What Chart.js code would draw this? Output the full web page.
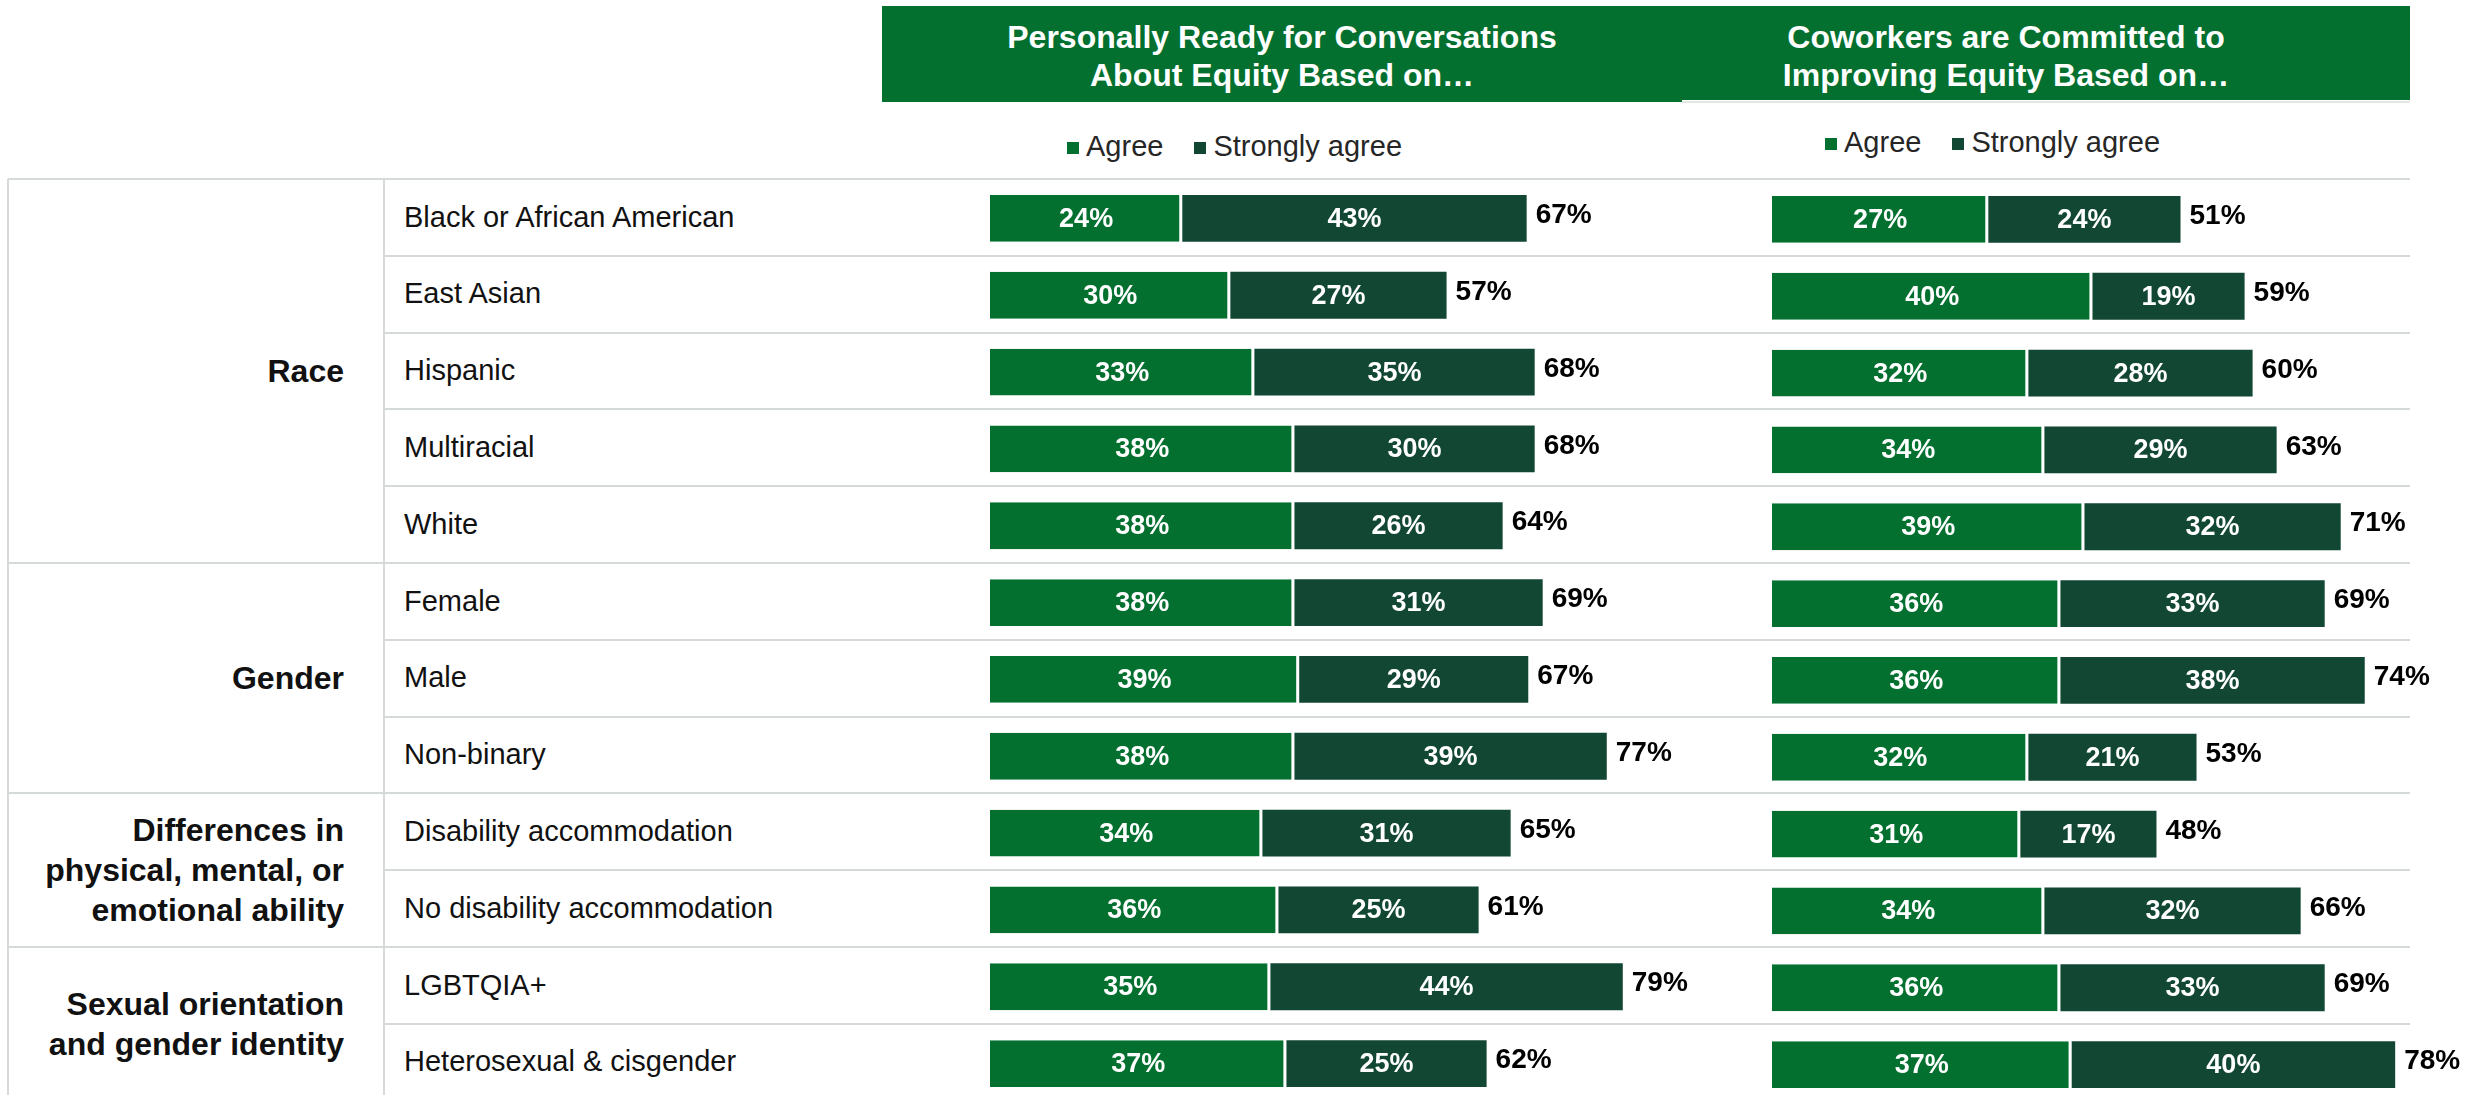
<!DOCTYPE html>
<html>
<head>
<meta charset="utf-8">
<script src="https://cdn.jsdelivr.net/npm/chart.js@4.4.0/dist/chart.umd.min.js"></script>
<style>
  body { margin: 0; width: 2488px; height: 1095px; overflow: hidden; background: #fff;
         font-family: 'Liberation Sans', Arial, sans-serif; position: relative; }
  .abs { position: absolute; }
  .hdr { background: #03702f; }
  .hdrText { color: #fff; font-weight: bold; font-size: 32px; line-height: 38px; text-align: center; }
  .legend { display: flex; align-items: center; height: 30px; font-size: 29px; color: #262626; }
  .legend i { display: inline-block; width: 12px; height: 12px; margin-right: 7px; margin-top: 4px; }
  .line { background: #d5dad8; }
  .rowLbl { font-size: 29px; color: #111; height: 76px; display: flex; align-items: center; }
  .grpLbl { font-size: 32px; font-weight: bold; color: #111; text-align: right; line-height: 40px;
            display: flex; align-items: center; justify-content: flex-end; }
  .wrap { position: absolute; width: 801px; height: 922px; }
</style>
</head>
<body>
<div id="page"></div>
<div class="wrap" style="left:990px; top:180px;"><canvas id="readyChart"></canvas></div>
<div class="wrap" style="left:1772px; top:181px;"><canvas id="coworkChart"></canvas></div>
<script>
// row / group labels
const rowLabels = [
  'Black or African American', 'East Asian', 'Hispanic', 'Multiracial', 'White',
  'Female', 'Male', 'Non-binary',
  'Disability accommodation', 'No disability accommodation',
  'LGBTQIA+', 'Heterosexual & cisgender',
];
const groupLabels = [
  ['Race'],
  ['Gender'],
  ['Differences in', 'physical, mental, or', 'emotional ability'],
  ['Sexual orientation', 'and gender identity'],
];
const groupSizes = [5, 3, 2, 2];
const seriesNames = ['Agree', 'Strongly agree'];
const titles = [
  ['Personally Ready for Conversations', 'About Equity Based on…'],
  ['Coworkers are Committed to', 'Improving Equity Based on…'],
];

// Personally ready
const readyAgree = [24, 30, 33, 38, 38, 38, 38.6, 38, 34, 36, 35, 37];
const readyStrong = [43, 27, 35, 30, 26, 31, 28.6, 39, 31, 25, 44, 25];
const readyTotal = [67, 57, 68, 68, 64, 69, 67, 77, 65, 61, 79, 62];
// Coworkers committed
const coworkAgree = [27, 40, 32, 34, 39, 36, 36, 32, 31, 34, 36, 37.4];
const coworkStrong = [24, 19, 28, 29, 32, 33, 38, 21, 17, 32, 33, 40.4];
const coworkTotal = [51, 59, 60, 63, 71, 69, 74, 53, 48, 66, 69, 78];

const agreeColor = '#03702f';
const strongColor = '#124734';

// ---- table frame, headers, legends (html) ----
const page = document.getElementById('page');
const add = (cls, style, html) => {
  const d = document.createElement('div');
  d.className = 'abs ' + cls;
  d.setAttribute('style', style);
  if (html) d.innerHTML = html;
  page.appendChild(d);
  return d;
};

const top0 = 179;
const rowH = 76.8;

add('hdr', 'left:882px; top:6px; width:800px; height:96px;');
add('hdr', 'left:1682px; top:6px; width:728px; height:94px;');
add('', 'left:1682px; top:101px; width:728px; height:2px; background:#e3e8e5;');
add('hdrText', 'left:882px; top:18px; width:800px;', titles[0].join('<br>'));
add('hdrText', 'left:1682px; top:18px; width:648px;', titles[1].join('<br>'));

const legendHtml = seriesNames.map((n, i) =>
  `<i style="background:${i ? strongColor : agreeColor}"></i><span style="margin-right:${i ? 0 : 31}px">${n}</span>`
).join('');
add('legend', 'left:1067px; top:131px;', legendHtml);
add('legend', 'left:1825px; top:127px;', legendHtml);

// grid lines
const groupStarts = [0];
groupSizes.forEach((s) => groupStarts.push(groupStarts[groupStarts.length - 1] + s));
for (let k = 0; k < rowLabels.length; k++) {
  const y = Math.round(top0 + k * rowH);
  const x0 = groupStarts.includes(k) ? 8 : 384;
  add('line', `left:${x0}px; top:${y - 1}px; width:${2410 - x0}px; height:2px;`);
}
add('line', `left:7px; top:${top0}px; width:2px; height:${1095 - top0}px;`);
add('line', `left:383px; top:${top0}px; width:2px; height:${1095 - top0}px;`);

// row labels
rowLabels.forEach((lbl, k) => {
  add('rowLbl', `left:404px; top:${top0 + k * rowH}px;`, lbl.replace('&', '&amp;'));
});
// group labels
groupLabels.forEach((lines, g) => {
  const y = top0 + groupStarts[g] * rowH;
  const h = groupSizes[g] * rowH;
  add('grpLbl', `left:20px; top:${y}px; width:324px; height:${h}px;`, '<div>' + lines.join('<br>') + '</div>');
});

// ---- bar charts ----
const valueLabels = {
  id: 'valueLabels',
  afterDatasetsDraw(chart, args, opts) {
    const ctx = chart.ctx;
    ctx.save();
    ctx.textAlign = 'center';
    ctx.textBaseline = 'middle';
    ctx.fillStyle = '#fff';
    ctx.font = "bold 27px 'Liberation Sans', Arial";
    chart.data.datasets.forEach((ds, di) => {
      chart.getDatasetMeta(di).data.forEach((bar, i) => {
        const mid = (bar.x + bar.base) / 2;
        ctx.fillText(Math.round(ds.data[i]) + '%', mid, bar.y + 1);
      });
    });
    // totals
    ctx.textAlign = 'left';
    ctx.fillStyle = '#000';
    ctx.font = "bold 28px 'Liberation Sans', Arial";
    const last = chart.getDatasetMeta(chart.data.datasets.length - 1).data;
    last.forEach((bar, i) => {
      ctx.fillText(opts.totals[i] + '%', bar.x + 9, bar.y - 3);
    });
    ctx.restore();
  },
};

const makeChart = (id, agree, strong, totals) => {
  const data = {
    labels: rowLabels,
    datasets: [
      {
        label: seriesNames[0],
        data: agree,
        backgroundColor: agreeColor,
        borderColor: '#fff',
        borderWidth: { top: 0, right: 3, bottom: 0, left: 0 },
        borderSkipped: false,
      },
      {
        label: seriesNames[1],
        data: strong,
        backgroundColor: strongColor,
        borderWidth: 0,
      },
    ],
  };
  return new Chart(document.getElementById(id), {
    type: 'bar',
    data: data,
    options: {
      indexAxis: 'y',
      responsive: true,
      maintainAspectRatio: false,
      animation: false,
      events: [],
      barPercentage: 0.61,
      categoryPercentage: 1,
      layout: { padding: 0 },
      scales: {
        x: { stacked: true, min: 0, max: 100, display: false },
        y: { stacked: true, display: false },
      },
      plugins: {
        legend: { display: false },
        tooltip: { enabled: false },
        valueLabels: { totals: totals },
      },
    },
    plugins: [valueLabels],
  });
};

makeChart('readyChart', readyAgree, readyStrong, readyTotal);
makeChart('coworkChart', coworkAgree, coworkStrong, coworkTotal);
</script>
</body>
</html>
